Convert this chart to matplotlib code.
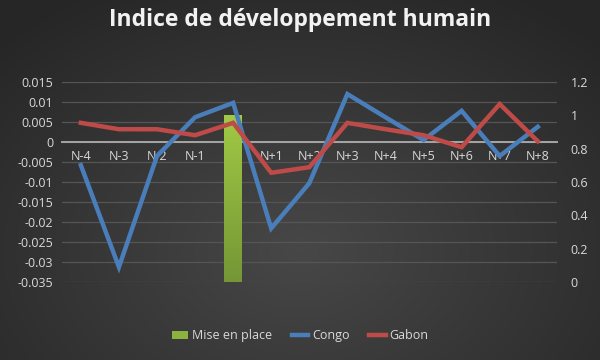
import numpy as np
import matplotlib
matplotlib.use("Agg")
import matplotlib.pyplot as plt
from matplotlib.lines import Line2D
from matplotlib.patches import Patch

categories = ["N-4", "N-3", "N-2", "N-1", "N", "N+1", "N+2",
              "N+3", "N+4", "N+5", "N+6", "N+7", "N+8"]
congo = [-0.0058, -0.0313, -0.0035, 0.0062, 0.0098, -0.0216, -0.0103,
         0.0120, 0.0062, 0.0005, 0.0078, -0.0035, 0.0038]
gabon = [0.0048, 0.0032, 0.0032, 0.0017, 0.0048, -0.0077, -0.0063,
         0.0048, 0.0032, 0.0017, -0.0013, 0.0095, 0.0002]
mise_en_place = [0, 0, 0, 0, 1, 0, 0, 0, 0, 0, 0, 0, 0]

text_col = "#d9d9d9"
plt.rcParams['font.family'] = ['Open Sans', 'DejaVu Sans']

fig = plt.figure(figsize=(6, 3.6), dpi=100)

# radial background
bg = fig.add_axes([0, 0, 1, 1], zorder=-10)
yy, xx = np.mgrid[0:360, 0:600]
r = np.sqrt(((xx - 300) / 420.0) ** 2 + ((yy - 250) / 300.0) ** 2)
r = np.clip(r, 0, 1)
shade = 0.28 - 0.13 * r
bg.imshow(np.dstack([shade, shade, shade]), extent=[0, 1, 0, 1],
          aspect="auto", origin="upper")
bg.axis("off")

ax = fig.add_axes([0.103, 0.217, 0.825, 0.555])
ax.set_facecolor("none")
x = np.arange(len(categories))
ax.set_xlim(-0.5, len(categories) - 0.5)
ax.set_ylim(-0.035, 0.015)
ax.set_yticks(np.arange(-0.035, 0.0151, 0.005))
ax.set_yticklabels(["-0.035", "-0.03", "-0.025", "-0.02", "-0.015", "-0.01",
                    "-0.005", "0", "0.005", "0.01", "0.015"])
ax.grid(axis="y", color="#555555", linewidth=0.9)
ax.set_axisbelow(True)
for s in ax.spines.values():
    s.set_visible(False)
ax.spines["bottom"].set_visible(True)
ax.spines["bottom"].set_position(("data", 0))
ax.spines["bottom"].set_color("#a6a6a6")
ax.spines["bottom"].set_linewidth(1.4)
ax.set_xticks(x)
ax.set_xticklabels(categories)
ax.tick_params(axis="both", length=0, colors=text_col, labelsize=9)
ax.tick_params(axis="x", pad=6)
ax.tick_params(axis="y", pad=6)

# bar on secondary axis
ax2 = ax.twinx()
ax2.set_ylim(0, 1.2)
ax2.set_yticks(np.arange(0, 1.21, 0.2))
ax2.set_yticklabels(["0", "0.2", "0.4", "0.6", "0.8", "1", "1.2"])
ax2.tick_params(axis="y", length=0, colors=text_col, labelsize=9, pad=10)
for s in ax2.spines.values():
    s.set_visible(False)
bars = ax2.bar(x, mise_en_place, width=0.47, color="#8cb23f")
for b in bars:
    if b.get_height() > 0:
        x0, w, h = b.get_x(), b.get_width(), b.get_height()
        grad = np.linspace(0, 1, 100).reshape(-1, 1)
        # row 0 = bottom (darker), last row = top (lighter)
        cols = np.array([0.46, 0.59, 0.21]) * (1 - grad[..., None]) + \
            np.array([0.63, 0.79, 0.27]) * grad[..., None]
        im = ax2.imshow(cols, extent=[x0, x0 + w, 0, h], aspect="auto",
                        origin="lower", zorder=b.get_zorder())
        im.set_clip_path(b)
ax2.set_xlim(-0.5, len(categories) - 0.5)

# lines on top
ax3 = ax.twinx()
ax3.set_ylim(ax.get_ylim())
ax3.set_xlim(ax.get_xlim())
ax3.axis("off")
ax3.plot(x, congo, color="#4a7ebb", linewidth=3.2, solid_joinstyle="miter")
ax3.plot(x, gabon, color="#be4b48", linewidth=3.2, solid_joinstyle="miter")

fig.text(0.5, 0.945, "Indice de développement humain", ha="center",
         va="center", fontsize=16.5, fontweight="bold", color="#f2f2f2")

handles = [Patch(facecolor="#8cb23f", edgecolor="none"),
           Line2D([0], [0], color="#4a7ebb", linewidth=3.2),
           Line2D([0], [0], color="#be4b48", linewidth=3.2)]
leg = fig.legend(handles, ["Mise en place", "Congo", "Gabon"], loc="center",
                 bbox_to_anchor=(0.5, 0.067), ncol=3, frameon=False,
                 fontsize=9, handlelength=1.3, handletextpad=0.3,
                 columnspacing=1.6)
for t in leg.get_texts():
    t.set_color(text_col)

fig.savefig("out.png", dpi=100)
